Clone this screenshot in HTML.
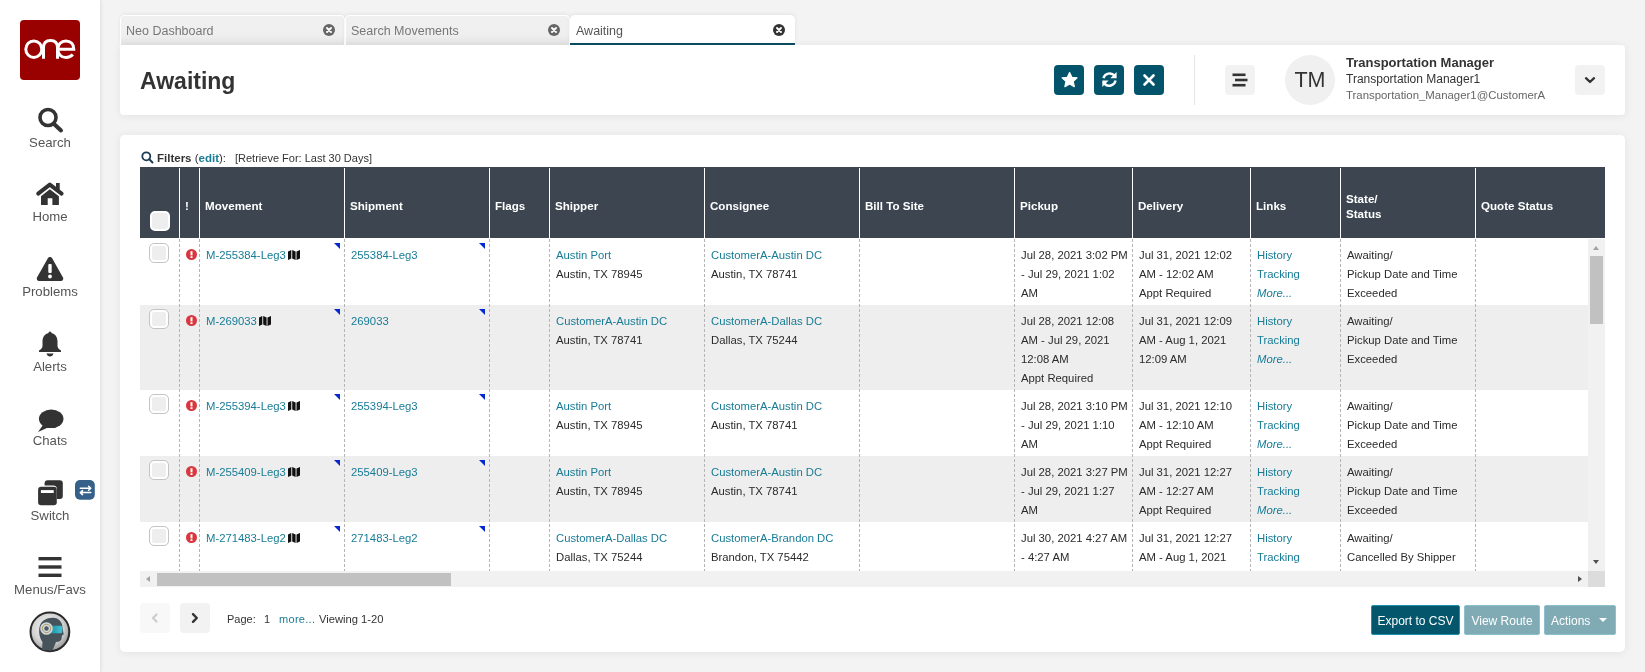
<!DOCTYPE html>
<html><head><meta charset="utf-8"><style>
*{box-sizing:border-box;margin:0;padding:0}
html,body{width:1645px;height:672px;overflow:hidden}
body{background:#f3f3f3;font-family:"Liberation Sans",sans-serif;color:#333;position:relative}
.a{position:absolute}
#side{position:absolute;left:0;top:0;width:100px;height:672px;background:#fff;box-shadow:1px 0 4px rgba(0,0,0,.09)}
.logo{position:absolute;left:20px;top:20px;width:60px;height:60px;background:#990000;border-radius:4px}
.nl{position:absolute;left:0;width:100px;text-align:center;font-size:13.2px;color:#555;line-height:15px;white-space:nowrap}
.tab{position:absolute;top:15px;height:30px;background:linear-gradient(#f0f0f0 0,#efefef 65%,#e3e3e3 100%);border:1px solid #fff;border-bottom:none;border-radius:5px 5px 0 0;font-size:12.5px;color:#777;box-shadow:0 -1px 4px rgba(0,0,0,.07)}
.tab .t{position:absolute;left:5px;top:8px;line-height:15px;white-space:nowrap}
.tab .x{position:absolute;top:8px;width:12px;height:12px;line-height:0}
.tab.act{background:#fff;border:none;color:#555}
.panel{position:absolute;background:#fff;box-shadow:0 1px 8px rgba(0,0,0,.075)}
.tbtn{position:absolute;top:65px;width:30px;height:30px;border-radius:4px;background:#03546b}
.gbtn{position:absolute;width:30px;height:30px;border-radius:4px;background:#f2f2f2}
.hd{position:absolute;top:167px;height:71px;background:#3c4550}
.hl{position:absolute;top:168px;width:1px;height:70px;background:#fff}
.ht{position:absolute;color:#fff;font-weight:bold;font-size:11.6px;line-height:15px;white-space:nowrap}
.row{position:absolute;left:140px;width:1448px}
.dl{position:absolute;width:1px;background-image:linear-gradient(#b5b5b5 60%,transparent 60%);background-size:1px 5px;background-position:0 1px}
.c{position:absolute;font-size:11.3px;line-height:19px;white-space:nowrap;color:#2b2b2b}
.lk{color:#187c96}
.it{font-style:italic}
.tri{position:absolute;width:0;height:0;border-top:6px solid #0528cf;border-left:6px solid transparent}
.cb{position:absolute;width:20px;height:20px;border:1px solid #c4c4c4;border-radius:5px;background:#eee;box-shadow:inset 0 0 0 2px #fff}
.exc{position:absolute;width:11px;height:11px;border-radius:50%;background:#d9363e}
</style></head><body>
<div id="wrap" style="position:absolute;left:0;top:0;width:1645px;height:672px;overflow:hidden;will-change:transform">
<div id="side">
<div class="logo"><svg class="a" style="left:0;top:0" width="60" height="60" viewBox="0 0 60 60"><g fill="none" stroke="#fff" stroke-width="3"><ellipse cx="13.8" cy="29.2" rx="8" ry="8.3"/><path d="M23.5 38.8 V27.5 C23.5 22.5 26.5 20.5 30.5 20.5 C34.5 20.5 37.5 22.5 37.5 27.5 V38.8"/><path d="M38 29.2 H53.8 C53.8 24 50.5 20.9 45.9 20.9 C41.2 20.9 37.8 24.5 37.8 29.2 C37.8 34.2 41.3 37.5 46 37.5 C49 37.5 51.2 36.4 52.8 34.6"/></g></svg></div>
<div class="nl" style="top:135px">Search</div>
<div class="nl" style="top:209px">Home</div>
<div class="nl" style="top:284px">Problems</div>
<div class="nl" style="top:359px">Alerts</div>
<div class="nl" style="top:433px">Chats</div>
<div class="nl" style="top:508px">Switch</div>
<div class="nl" style="top:582px">Menus/Favs</div>
<svg class="a" style="left:36px;top:106px" width="30" height="30" viewBox="0 0 30 30"><circle cx="12" cy="11.5" r="8" fill="none" stroke="#333" stroke-width="3.6"/><line x1="17.5" y1="17.5" x2="25" y2="24.5" stroke="#333" stroke-width="4" stroke-linecap="round"/></svg>
<svg class="a" style="left:30px;top:175px" width="40" height="35" viewBox="0 0 40 35"><path d="M8.2 18.6 L19.8 9.6 L31.6 18.6" fill="none" stroke="#333" stroke-width="4" stroke-linecap="round" stroke-linejoin="round"/><rect x="26" y="8" width="3.7" height="8" fill="#333"/><path d="M11 21.3 L19.8 14.2 L28.9 21.3 V30 H22.4 V23.2 H17.7 V30 H11 Z" fill="#333"/></svg>
<svg class="a" style="left:36px;top:256px" width="28" height="26" viewBox="0 0 28 26"><path d="M14 1 C15 1 15.8 1.6 16.3 2.4 L27 21.5 C27.8 23 26.8 25 25 25 H3 C1.2 25 0.2 23 1 21.5 L11.7 2.4 C12.2 1.6 13 1 14 1 Z" fill="#333"/><rect x="12.3" y="8" width="3.4" height="9" rx="1" fill="#fff"/><circle cx="14" cy="20.5" r="1.9" fill="#fff"/></svg>
<svg class="a" style="left:38px;top:331px" width="24" height="26" viewBox="0 0 24 26"><circle cx="12" cy="2.2" r="1.6" fill="#333"/><path d="M12 2 C6.5 2 4.5 6.5 4.5 10.5 V15 C4.5 17 2.5 18.5 1 19.5 V21 H23 V19.5 C21.5 18.5 19.5 17 19.5 15 V10.5 C19.5 6.5 17.5 2 12 2 Z" fill="#333"/><path d="M8.5 22.5 H15.5 C15 24.5 13.7 25.5 12 25.5 C10.3 25.5 9 24.5 8.5 22.5 Z" fill="#333"/></svg>
<svg class="a" style="left:37px;top:409px" width="27" height="24" viewBox="0 0 27 24"><ellipse cx="14.2" cy="9.8" rx="12.3" ry="9.3" fill="#333"/><path d="M6 16 L1 23 L11 18.5 Z" fill="#333"/></svg>
<svg class="a" style="left:30px;top:475px" width="70" height="35" viewBox="0 0 70 35"><rect x="14.6" y="5.2" width="18.2" height="18.8" rx="3" fill="#333"/><rect x="6.9" y="10.5" width="20.1" height="20.6" rx="4" fill="#fff"/><rect x="8.1" y="11.7" width="18.7" height="18.5" rx="3" fill="#333"/><rect x="10.9" y="15.1" width="12.8" height="2.9" fill="#fff"/><rect x="45" y="5" width="19.8" height="19.7" rx="5" fill="#356089"/><path d="M50.3 13.3 H60.3 M58.6 11.3 L60.8 13.3 L58.6 15.3 M60.8 17.6 H50.8 M52.5 15.6 L50.3 17.6 L52.5 19.6" fill="none" stroke="#fff" stroke-width="1.5" stroke-linecap="round" stroke-linejoin="round"/></svg>
<svg class="a" style="left:38px;top:556px" width="24" height="22" viewBox="0 0 24 22"><rect x="0.5" y="1" width="23" height="3.4" fill="#333"/><rect x="0.5" y="9.3" width="23" height="3.4" fill="#333"/><rect x="0.5" y="17.6" width="23" height="3.4" fill="#333"/></svg>
<svg class="a" style="left:25px;top:605px" width="50" height="50" viewBox="0 0 50 50"><defs><radialGradient id="ag" cx="45%" cy="40%" r="60%"><stop offset="0" stop-color="#f6f6f6"/><stop offset=".65" stop-color="#d4d4d4"/><stop offset="1" stop-color="#9a9a9a"/></radialGradient><linearGradient id="vg" x1="0" x2="1"><stop offset="0" stop-color="#1c7f95"/><stop offset="1" stop-color="#3ec3d8"/></linearGradient></defs><circle cx="24.9" cy="26.8" r="19.4" fill="url(#ag)" stroke="#2a2a2a" stroke-width="2"/><path d="M17 45 L17.5 37 C14.5 33 13.5 27 14.5 22 C16 15.5 22 12.6 28 12.8 C34 13 37.5 17 37.5 23 L38.7 29.5 L37 30.5 L36.5 34 C36 36 34 37 31 37 L27.5 45.5 Z" fill="#46535b"/><rect x="22" y="20.8" width="15.2" height="7.5" rx="1.5" fill="url(#vg)"/><circle cx="21.5" cy="23.5" r="6.3" fill="#cfd8dc"/><circle cx="21.5" cy="23.5" r="4.2" fill="none" stroke="#b39a62" stroke-width="1"/><circle cx="21.5" cy="23.5" r="2.2" fill="#4d5a62"/></svg>
</div>
<div class="tab" style="left:120px;width:225px"><span class="t">Neo Dashboard</span><div class="x" style="left:202px"><svg width="12" height="12" viewBox="0 0 12 12"><circle cx="6" cy="6" r="6" fill="#666"/><path d="M4 4 L8 8 M8 4 L4 8" stroke="#fff" stroke-width="1.9" stroke-linecap="round"/></svg></div></div>
<div class="tab" style="left:345px;width:225px"><span class="t">Search Movements</span><div class="x" style="left:202px"><svg width="12" height="12" viewBox="0 0 12 12"><circle cx="6" cy="6" r="6" fill="#666"/><path d="M4 4 L8 8 M8 4 L4 8" stroke="#fff" stroke-width="1.9" stroke-linecap="round"/></svg></div></div>
<div class="tab act" style="left:570px;width:225px"><span class="t" style="left:6px;top:9px">Awaiting</span><div class="x" style="left:203px;top:9px"><svg width="12" height="12" viewBox="0 0 12 12"><circle cx="6" cy="6" r="6" fill="#333"/><path d="M4 4 L8 8 M8 4 L4 8" stroke="#fff" stroke-width="1.9" stroke-linecap="round"/></svg></div><div class="a" style="left:0;top:28px;width:225px;height:2px;background:#0b4d63"></div></div>
<div class="panel" style="left:120px;top:45px;width:1505px;height:70px;border-radius:0 4px 4px 4px"></div>
<div class="a" style="left:140px;top:68px;font-size:23px;font-weight:bold;color:#333;line-height:26px">Awaiting</div>
<div class="tbtn" style="left:1054px"><svg class="a" style="left:0;top:0" width="30" height="30" viewBox="0 0 30 30"><path transform="translate(0.6 0)" d="M15 7.5 L17.3 12.3 L22.5 12.9 L18.6 16.4 L19.7 21.6 L15 19 L10.3 21.6 L11.4 16.4 L7.5 12.9 L12.7 12.3 Z" fill="#fff" stroke="#fff" stroke-width="1.2" stroke-linejoin="round"/></svg></div>
<div class="tbtn" style="left:1094px"><svg class="a" style="left:0;top:0" width="30" height="30" viewBox="0 0 30 30"><path d="M9.4 13.2 A6.6 6.6 0 0 1 20.6 10.6" fill="none" stroke="#fff" stroke-width="2.4"/><path d="M22.6 6.9 V13.2 H16.3 Z" fill="#fff"/><path d="M21.6 15.6 A6.6 6.6 0 0 1 10.3 18.6" fill="none" stroke="#fff" stroke-width="2.4"/><path d="M8.3 22.1 V15.6 H14.6 Z" fill="#fff"/></svg></div>
<div class="tbtn" style="left:1134px"><svg class="a" style="left:0;top:0" width="30" height="30" viewBox="0 0 30 30"><path d="M10.5 10.5 L19.5 19.5 M19.5 10.5 L10.5 19.5" stroke="#fff" stroke-width="2.6" stroke-linecap="round"/></svg></div>
<div class="a" style="left:1194px;top:55px;width:1px;height:50px;background:#e6e6e6"></div>
<div class="gbtn" style="left:1225px;top:65px"><svg class="a" style="left:0;top:0" width="30" height="30" viewBox="0 0 30 30"><rect x="7.5" y="8.5" width="13" height="2.6" fill="#333"/><rect x="10" y="13.7" width="12.5" height="2.6" fill="#333"/><rect x="7.5" y="18.9" width="13" height="2.6" fill="#333"/></svg></div>
<div class="a" style="left:1285px;top:55px;width:50px;height:50px;border-radius:50%;background:#f0f0f0;text-align:center;line-height:50px;font-size:21.5px;color:#333">TM</div>
<div class="a" style="left:1346px;top:55px;font-size:13px;font-weight:bold;color:#333;line-height:16px;white-space:nowrap">Transportation Manager</div>
<div class="a" style="left:1346px;top:72px;font-size:12px;color:#333;line-height:15px;white-space:nowrap">Transportation Manager1</div>
<div class="a" style="left:1346px;top:88px;font-size:11.4px;color:#666;line-height:14px;white-space:nowrap">Transportation_Manager1@CustomerA</div>
<div class="gbtn" style="left:1575px;top:65px"><svg class="a" style="left:0;top:0" width="30" height="30" viewBox="0 0 30 30"><path d="M11 13.2 L15 17 L19 13.2" fill="none" stroke="#333" stroke-width="2.3" stroke-linecap="round" stroke-linejoin="round"/></svg></div>
<div class="panel" style="left:120px;top:135px;width:1505px;height:517px;border-radius:5px"></div>
<svg class="a" style="left:141px;top:151px" width="13" height="13" viewBox="0 0 13 13"><circle cx="5.3" cy="5.3" r="4" fill="none" stroke="#1d3d52" stroke-width="1.8"/><line x1="8.3" y1="8.3" x2="11.5" y2="11.5" stroke="#1d3d52" stroke-width="2" stroke-linecap="round"/></svg>
<div class="a" style="left:157px;top:151px;font-size:11.5px;line-height:15px;white-space:nowrap;color:#333"><b>Filters</b> (<b class="lk">edit</b>):</div>
<div class="a" style="left:235px;top:151px;font-size:11px;line-height:15px;white-space:nowrap;color:#333">[Retrieve For: Last 30 Days]</div>
<div class="hd" style="left:140px;width:1465px"></div>
<div class="hl" style="left:179px"></div>
<div class="hl" style="left:199px"></div>
<div class="hl" style="left:344px"></div>
<div class="hl" style="left:489px"></div>
<div class="hl" style="left:549px"></div>
<div class="hl" style="left:704px"></div>
<div class="hl" style="left:859px"></div>
<div class="hl" style="left:1014px"></div>
<div class="hl" style="left:1132px"></div>
<div class="hl" style="left:1250px"></div>
<div class="hl" style="left:1340px"></div>
<div class="hl" style="left:1475px"></div>
<div class="cb" style="left:150px;top:211px;border:2px solid #fff;background:#eee;box-shadow:none"></div>
<div class="ht" style="left:185px;top:198px">!</div>
<div class="ht" style="left:205px;top:198px">Movement</div>
<div class="ht" style="left:350px;top:198px">Shipment</div>
<div class="ht" style="left:495px;top:198px">Flags</div>
<div class="ht" style="left:555px;top:198px">Shipper</div>
<div class="ht" style="left:710px;top:198px">Consignee</div>
<div class="ht" style="left:865px;top:198px">Bill To Site</div>
<div class="ht" style="left:1020px;top:198px">Pickup</div>
<div class="ht" style="left:1138px;top:198px">Delivery</div>
<div class="ht" style="left:1256px;top:198px">Links</div>
<div class="ht" style="left:1481px;top:198px">Quote Status</div>
<div class="ht" style="left:1346px;top:191px">State/<br>Status</div>
<div class="a" style="left:140px;top:238px;width:1465px;height:333px;overflow:hidden">
<div class="a" style="left:0;top:0px;width:1448px;height:67px;background:#fff"></div>
<div class="cb" style="left:9px;top:5px"></div>
<svg class="a" style="left:46px;top:11px" width="11" height="11" viewBox="0 0 11 11"><circle cx="5.5" cy="5.5" r="5.5" fill="#d9363e"/><rect x="4.5" y="2.2" width="2" height="4.2" fill="#fff"/><rect x="4.5" y="7.2" width="2" height="1.8" fill="#fff"/></svg>
<div class="c" style="left:66px;top:8px"><span class="lk">M-255384-Leg3</span><svg width="12" height="10" viewBox="0 0 12 10" style="margin-left:2px;vertical-align:-1px"><path d="M0 1.5 L3.3 0 V8.5 L0 10 Z M4.2 0 L7.6 1.5 V10 L4.2 8.5 Z M8.5 1.5 L12 0 V8.5 L8.5 10 Z" fill="#111"/></svg></div>
<div class="tri" style="left:194px;top:5px"></div>
<div class="c lk" style="left:211px;top:8px">255384-Leg3</div>
<div class="tri" style="left:339px;top:5px"></div>
<div class="c" style="left:416px;top:8px"><span class="lk">Austin Port</span><br>Austin, TX 78945</div>
<div class="c" style="left:571px;top:8px"><span class="lk">CustomerA-Austin DC</span><br>Austin, TX 78741</div>
<div class="c" style="left:881px;top:8px">Jul 28, 2021 3:02 PM<br>- Jul 29, 2021 1:02<br>AM</div>
<div class="c" style="left:999px;top:8px">Jul 31, 2021 12:02<br>AM - 12:02 AM<br>Appt Required</div>
<div class="c" style="left:1117px;top:8px"><span class="lk">History</span><br><span class="lk">Tracking</span><br><span class="lk it">More...</span></div>
<div class="c" style="left:1207px;top:8px">Awaiting/<br>Pickup Date and Time<br>Exceeded</div>
<div class="a" style="left:0;top:67px;width:1448px;height:85px;background:#eee"></div>
<div class="cb" style="left:9px;top:71px"></div>
<svg class="a" style="left:46px;top:77px" width="11" height="11" viewBox="0 0 11 11"><circle cx="5.5" cy="5.5" r="5.5" fill="#d9363e"/><rect x="4.5" y="2.2" width="2" height="4.2" fill="#fff"/><rect x="4.5" y="7.2" width="2" height="1.8" fill="#fff"/></svg>
<div class="c" style="left:66px;top:74px"><span class="lk">M-269033</span><svg width="12" height="10" viewBox="0 0 12 10" style="margin-left:2px;vertical-align:-1px"><path d="M0 1.5 L3.3 0 V8.5 L0 10 Z M4.2 0 L7.6 1.5 V10 L4.2 8.5 Z M8.5 1.5 L12 0 V8.5 L8.5 10 Z" fill="#111"/></svg></div>
<div class="tri" style="left:194px;top:71px"></div>
<div class="c lk" style="left:211px;top:74px">269033</div>
<div class="tri" style="left:339px;top:71px"></div>
<div class="c" style="left:416px;top:74px"><span class="lk">CustomerA-Austin DC</span><br>Austin, TX 78741</div>
<div class="c" style="left:571px;top:74px"><span class="lk">CustomerA-Dallas DC</span><br>Dallas, TX 75244</div>
<div class="c" style="left:881px;top:74px">Jul 28, 2021 12:08<br>AM - Jul 29, 2021<br>12:08 AM<br>Appt Required</div>
<div class="c" style="left:999px;top:74px">Jul 31, 2021 12:09<br>AM - Aug 1, 2021<br>12:09 AM</div>
<div class="c" style="left:1117px;top:74px"><span class="lk">History</span><br><span class="lk">Tracking</span><br><span class="lk it">More...</span></div>
<div class="c" style="left:1207px;top:74px">Awaiting/<br>Pickup Date and Time<br>Exceeded</div>
<div class="a" style="left:0;top:152px;width:1448px;height:66px;background:#fff"></div>
<div class="cb" style="left:9px;top:156px"></div>
<svg class="a" style="left:46px;top:162px" width="11" height="11" viewBox="0 0 11 11"><circle cx="5.5" cy="5.5" r="5.5" fill="#d9363e"/><rect x="4.5" y="2.2" width="2" height="4.2" fill="#fff"/><rect x="4.5" y="7.2" width="2" height="1.8" fill="#fff"/></svg>
<div class="c" style="left:66px;top:159px"><span class="lk">M-255394-Leg3</span><svg width="12" height="10" viewBox="0 0 12 10" style="margin-left:2px;vertical-align:-1px"><path d="M0 1.5 L3.3 0 V8.5 L0 10 Z M4.2 0 L7.6 1.5 V10 L4.2 8.5 Z M8.5 1.5 L12 0 V8.5 L8.5 10 Z" fill="#111"/></svg></div>
<div class="tri" style="left:194px;top:156px"></div>
<div class="c lk" style="left:211px;top:159px">255394-Leg3</div>
<div class="tri" style="left:339px;top:156px"></div>
<div class="c" style="left:416px;top:159px"><span class="lk">Austin Port</span><br>Austin, TX 78945</div>
<div class="c" style="left:571px;top:159px"><span class="lk">CustomerA-Austin DC</span><br>Austin, TX 78741</div>
<div class="c" style="left:881px;top:159px">Jul 28, 2021 3:10 PM<br>- Jul 29, 2021 1:10<br>AM</div>
<div class="c" style="left:999px;top:159px">Jul 31, 2021 12:10<br>AM - 12:10 AM<br>Appt Required</div>
<div class="c" style="left:1117px;top:159px"><span class="lk">History</span><br><span class="lk">Tracking</span><br><span class="lk it">More...</span></div>
<div class="c" style="left:1207px;top:159px">Awaiting/<br>Pickup Date and Time<br>Exceeded</div>
<div class="a" style="left:0;top:218px;width:1448px;height:66px;background:#eee"></div>
<div class="cb" style="left:9px;top:222px"></div>
<svg class="a" style="left:46px;top:228px" width="11" height="11" viewBox="0 0 11 11"><circle cx="5.5" cy="5.5" r="5.5" fill="#d9363e"/><rect x="4.5" y="2.2" width="2" height="4.2" fill="#fff"/><rect x="4.5" y="7.2" width="2" height="1.8" fill="#fff"/></svg>
<div class="c" style="left:66px;top:225px"><span class="lk">M-255409-Leg3</span><svg width="12" height="10" viewBox="0 0 12 10" style="margin-left:2px;vertical-align:-1px"><path d="M0 1.5 L3.3 0 V8.5 L0 10 Z M4.2 0 L7.6 1.5 V10 L4.2 8.5 Z M8.5 1.5 L12 0 V8.5 L8.5 10 Z" fill="#111"/></svg></div>
<div class="tri" style="left:194px;top:222px"></div>
<div class="c lk" style="left:211px;top:225px">255409-Leg3</div>
<div class="tri" style="left:339px;top:222px"></div>
<div class="c" style="left:416px;top:225px"><span class="lk">Austin Port</span><br>Austin, TX 78945</div>
<div class="c" style="left:571px;top:225px"><span class="lk">CustomerA-Austin DC</span><br>Austin, TX 78741</div>
<div class="c" style="left:881px;top:225px">Jul 28, 2021 3:27 PM<br>- Jul 29, 2021 1:27<br>AM</div>
<div class="c" style="left:999px;top:225px">Jul 31, 2021 12:27<br>AM - 12:27 AM<br>Appt Required</div>
<div class="c" style="left:1117px;top:225px"><span class="lk">History</span><br><span class="lk">Tracking</span><br><span class="lk it">More...</span></div>
<div class="c" style="left:1207px;top:225px">Awaiting/<br>Pickup Date and Time<br>Exceeded</div>
<div class="a" style="left:0;top:284px;width:1448px;height:78px;background:#fff"></div>
<div class="cb" style="left:9px;top:288px"></div>
<svg class="a" style="left:46px;top:294px" width="11" height="11" viewBox="0 0 11 11"><circle cx="5.5" cy="5.5" r="5.5" fill="#d9363e"/><rect x="4.5" y="2.2" width="2" height="4.2" fill="#fff"/><rect x="4.5" y="7.2" width="2" height="1.8" fill="#fff"/></svg>
<div class="c" style="left:66px;top:291px"><span class="lk">M-271483-Leg2</span><svg width="12" height="10" viewBox="0 0 12 10" style="margin-left:2px;vertical-align:-1px"><path d="M0 1.5 L3.3 0 V8.5 L0 10 Z M4.2 0 L7.6 1.5 V10 L4.2 8.5 Z M8.5 1.5 L12 0 V8.5 L8.5 10 Z" fill="#111"/></svg></div>
<div class="tri" style="left:194px;top:288px"></div>
<div class="c lk" style="left:211px;top:291px">271483-Leg2</div>
<div class="tri" style="left:339px;top:288px"></div>
<div class="c" style="left:416px;top:291px"><span class="lk">CustomerA-Dallas DC</span><br>Dallas, TX 75244</div>
<div class="c" style="left:571px;top:291px"><span class="lk">CustomerA-Brandon DC</span><br>Brandon, TX 75442</div>
<div class="c" style="left:881px;top:291px">Jul 30, 2021 4:27 AM<br>- 4:27 AM</div>
<div class="c" style="left:999px;top:291px">Jul 31, 2021 12:27<br>AM - Aug 1, 2021</div>
<div class="c" style="left:1117px;top:291px"><span class="lk">History</span><br><span class="lk">Tracking</span></div>
<div class="c" style="left:1207px;top:291px">Awaiting/<br>Cancelled By Shipper</div>
<div class="dl" style="left:39px;top:0;height:333px"></div>
<div class="dl" style="left:59px;top:0;height:333px"></div>
<div class="dl" style="left:204px;top:0;height:333px"></div>
<div class="dl" style="left:349px;top:0;height:333px"></div>
<div class="dl" style="left:409px;top:0;height:333px"></div>
<div class="dl" style="left:564px;top:0;height:333px"></div>
<div class="dl" style="left:719px;top:0;height:333px"></div>
<div class="dl" style="left:874px;top:0;height:333px"></div>
<div class="dl" style="left:992px;top:0;height:333px"></div>
<div class="dl" style="left:1110px;top:0;height:333px"></div>
<div class="dl" style="left:1200px;top:0;height:333px"></div>
<div class="dl" style="left:1335px;top:0;height:333px"></div>
</div>
<div class="a" style="left:1588px;top:239px;width:17px;height:332px;background:#f1f1f1"></div>
<div class="a" style="left:1590px;top:256px;width:13px;height:68px;background:#c1c1c1"></div>
<div class="a" style="left:1593px;top:246px;width:0;height:0;border-left:3.5px solid transparent;border-right:3.5px solid transparent;border-bottom:4px solid #a3a3a3"></div>
<div class="a" style="left:1593px;top:560px;width:0;height:0;border-left:3.5px solid transparent;border-right:3.5px solid transparent;border-top:4px solid #505050"></div>
<div class="a" style="left:140px;top:571px;width:1448px;height:16px;background:#f1f1f1"></div>
<div class="a" style="left:157px;top:573px;width:294px;height:13px;background:#c1c1c1"></div>
<div class="a" style="left:146px;top:575.5px;width:0;height:0;border-top:3.5px solid transparent;border-bottom:3.5px solid transparent;border-right:4px solid #a3a3a3"></div>
<div class="a" style="left:1578px;top:575.5px;width:0;height:0;border-top:3.5px solid transparent;border-bottom:3.5px solid transparent;border-left:4px solid #505050"></div>
<div class="a" style="left:1588px;top:571px;width:17px;height:16px;background:#dcdcdc"></div>
<div class="gbtn" style="left:140px;top:603px;background:#f8f8f8"><svg class="a" style="left:0;top:0" width="30" height="30" viewBox="0 0 30 30"><path d="M16.5 11.5 L13 15 L16.5 18.5" fill="none" stroke="#ccc" stroke-width="2.2" stroke-linecap="round" stroke-linejoin="round"/></svg></div>
<div class="gbtn" style="left:180px;top:603px"><svg class="a" style="left:0;top:0" width="30" height="30" viewBox="0 0 30 30"><path d="M13 11.2 L16.8 15 L13 18.8" fill="none" stroke="#333" stroke-width="2.4" stroke-linecap="round" stroke-linejoin="round"/></svg></div>
<div class="a" style="left:227px;top:612px;font-size:11px;line-height:15px;white-space:nowrap;color:#333">Page:</div>
<div class="a" style="left:264px;top:612px;font-size:11px;line-height:15px;white-space:nowrap;color:#333">1</div>
<div class="a lk" style="left:279px;top:612px;font-size:11px;line-height:15px;white-space:nowrap;letter-spacing:0.3px">more...</div>
<div class="a" style="left:319px;top:612px;font-size:11.2px;line-height:15px;white-space:nowrap;color:#333">Viewing 1-20</div>
<div class="a" style="left:1371px;top:605px;width:89px;height:30px;background:#03566b;border:1px solid #1f8fae;border-radius:2px;color:#fff;font-size:12px;line-height:29px;padding-top:1px;text-align:center">Export to CSV</div>
<div class="a" style="left:1464px;top:605px;width:76px;height:30px;background:#80aab4;border:1px solid #8cc0cc;border-radius:2px;color:#fff;font-size:12px;line-height:29px;padding-top:1px;text-align:center">View Route</div>
<div class="a" style="left:1544px;top:605px;width:72px;height:30px;background:#80aab4;border:1px solid #8cc0cc;border-radius:2px;color:#fff;font-size:12px;line-height:29px;padding-top:1px;padding-left:6px;text-align:left">Actions<span class="a" style="left:54px;top:12px;width:0;height:0;border-left:4px solid transparent;border-right:4px solid transparent;border-top:4px solid #fff"></span></div>
</div>
</body></html>
